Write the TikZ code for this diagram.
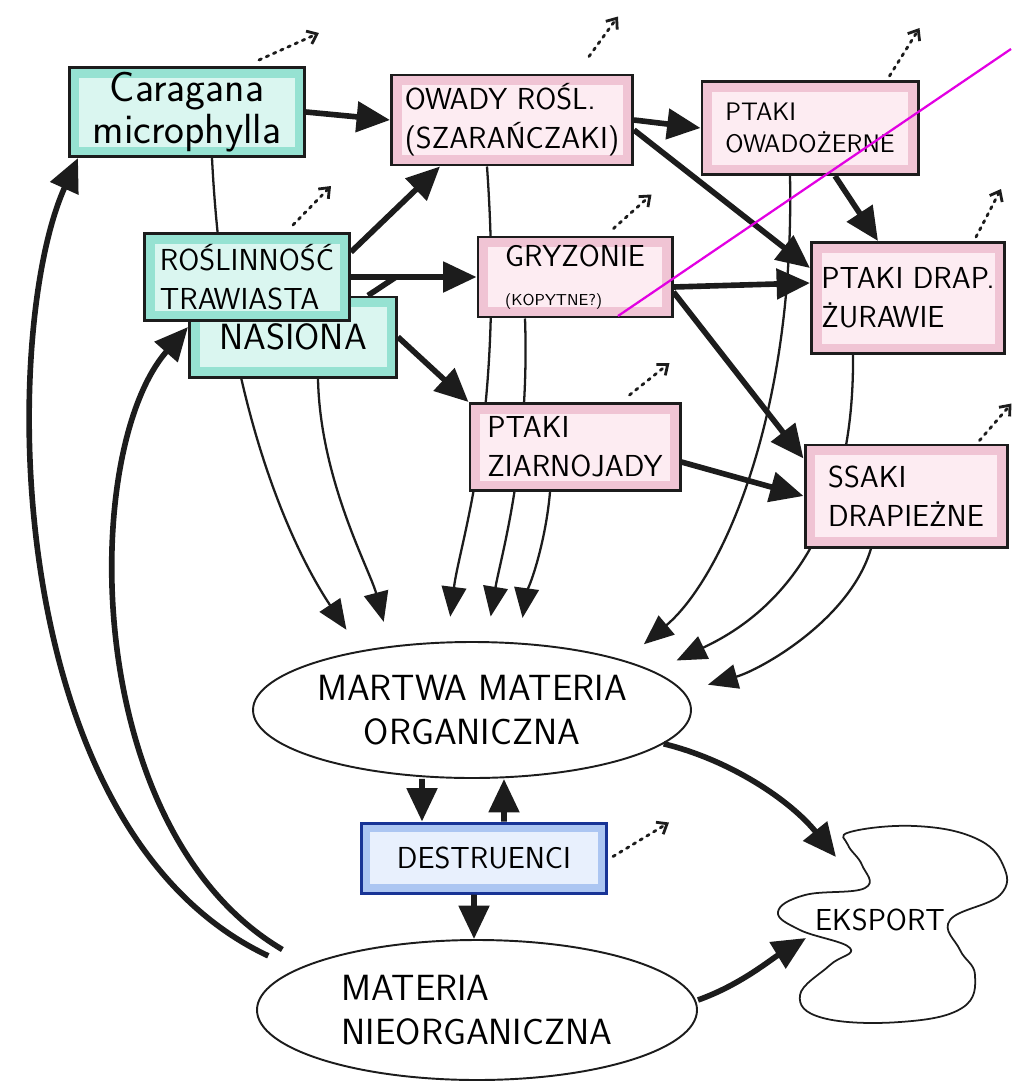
\documentclass[tikz,border=0pt]{standalone}
\usepackage{tikz}
\usetikzlibrary{arrows.meta}
\usetikzlibrary{shapes.geometric}
\usetikzlibrary{backgrounds}
\definecolor{penline}{RGB}{28,28,28}
\definecolor{tealpale}{RGB}{218,246,240}
\definecolor{tealmark}{RGB}{150,226,210}
\definecolor{pinkpale}{RGB}{253,236,242}
\definecolor{pinkmark}{RGB}{240,196,212}
\definecolor{bluepale}{RGB}{232,240,253}
\definecolor{bluemark}{RGB}{172,198,242}
\definecolor{blueline}{RGB}{24,52,150}
\definecolor{guide}{RGB}{226,0,226}
\tikzstyle{box}=[rectangle,draw=penline,line width=1.7pt,inner sep=3pt,font=\sffamily\Large,align=left]
\tikzstyle{plant}=[box,fill=tealpale,path picture={\draw[tealmark,line width=4mm] (path picture bounding box.south west) rectangle (path picture bounding box.north east);}]
\tikzstyle{animal}=[box,fill=pinkpale,path picture={\draw[pinkmark,line width=4mm] (path picture bounding box.south west) rectangle (path picture bounding box.north east);}]
\tikzstyle{decomp}=[box,draw=blueline,fill=bluepale,path picture={\draw[bluemark,line width=3.5mm] (path picture bounding box.south west) rectangle (path picture bounding box.north east);}]
\tikzstyle{pool}=[ellipse,draw=penline,fill=white,line width=1.1pt,inner sep=0pt,font=\sffamily\huge]
\tikzstyle{flow}=[line width=3.2pt,penline,-{Triangle[length=19pt,width=17pt]}]
\tikzstyle{flowline}=[line width=3.2pt,penline]
\tikzstyle{dead}=[line width=1.3pt,penline,shorten >=5mm,-{Triangle[length=17pt,width=14pt]}]
\tikzstyle{resp}=[line width=1.6pt,penline,line cap=round,dash pattern=on 1.5pt off 3pt,-{Straight Barb[length=5pt,width=8pt]}]
\tikzstyle{blob}=[line width=1pt,penline]

\begin{document}
\begin{tikzpicture}[x=0.2mm,y=-0.2mm]
	\useasboundingbox (0,0) rectangle (1011,1088);
	% producers
	\node[plant,align=center,inner sep=1pt,font=\sffamily\fontsize{24}{24}\selectfont,minimum width=47mm,minimum height=17.8mm] (caragana) at (187,112) {Caragana\\microphylla};
	\node[plant,font=\sffamily\huge,minimum width=41.4mm,minimum height=16mm] (nasiona) at (293,337) {\raisebox{-1.6mm}{NASIONA}};
	\node[plant,font=\sffamily\LARGE,minimum width=41mm,minimum height=17.4mm] (trawy) at (247,277) {ROŚLINNOŚĆ\\TRAWIASTA};
	% consumers
	\node[animal,font=\sffamily\LARGE,minimum width=48.2mm,minimum height=18mm] (owady) at (512,120) {OWADY ROŚL.\\(SZARAŃCZAKI)};
	\node[animal,minimum width=43.2mm,minimum height=18.6mm] (owadozerne) at (810,128) {PTAKI\\OWADOŻERNE};
	\node[animal,font=\sffamily\LARGE,minimum width=38.8mm,minimum height=16mm] (gryzonie) at (575,277) {GRYZONIE\\{\small(KOPYTNE?)}};
	\node[animal,font=\sffamily\LARGE,minimum width=38.6mm,minimum height=22.2mm] (drapzur) at (908,298) {PTAKI DRAP.\\ŻURAWIE};
	\node[animal,font=\sffamily\LARGE,minimum width=42mm,minimum height=17.4mm] (ziarnojady) at (575,447) {PTAKI\\ZIARNOJADY};
	\node[animal,font=\sffamily\LARGE,minimum width=40.4mm,minimum height=20.4mm] (ssaki) at (906,496) {SSAKI\\DRAPIEŻNE};
	% pools
	\node[pool,align=center,minimum width=86.8mm,minimum height=27.2mm] (martwa) at (472,710) {MARTWA MATERIA\\ORGANICZNA};
	\node[decomp,font=\sffamily\LARGE,minimum width=49mm,minimum height=14mm] (destruenci) at (484,858) {DESTRUENCI};
	\node[pool,align=left,minimum width=88mm,minimum height=28mm] (nieorg) at (477,1010) {MATERIA\\NIEORGANICZNA};
	\node[font=\sffamily\LARGE] (eksport) at (880,920) {EKSPORT};
	\draw[blob] plot[smooth cycle,tension=0.7] coordinates {(850,832) (915,826) (975,838) (1003,865) (1000,895) (950,920) (960,950) (975,975) (962,1008) (900,1022) (823,1018) (800,995) (830,965) (850,948) (800,930) (778,912) (805,895) (865,888) (862,865) (848,845)};
	\coordinate (eksin1) at (836,857);
	\coordinate (eksin2) at (806,938);

	% feeding
	\draw[flow] (caragana.east) -- (owady.west);
	\draw[flow] ([yshift=-4mm]trawy.north east) -- ([xshift=10mm]owady.south west);
	\draw[flow] (trawy.east) -- (gryzonie.west);
	\draw[flowline] ([xshift=-6mm]nasiona.north east) -- ([xshift=9mm]trawy.east);
	\draw[flow] (nasiona.east) -- (ziarnojady.north west);
	\draw[flow] (owady.east) -- (owadozerne.west);
	\draw[flow] ([yshift=-2mm]owady.east) -- ([yshift=6mm]drapzur.west);
	\draw[flow] ([xshift=5mm]owadozerne.south) -- ([xshift=-6mm]drapzur.north);
	\draw[flow] ([yshift=-2mm]gryzonie.east) -- ([yshift=3mm]drapzur.west);
	\draw[flow] ([yshift=-3mm]gryzonie.east) -- ([yshift=-3mm]ssaki.north west);
	\draw[flow] ([yshift=-3mm]ziarnojady.east) -- (ssaki.west);

	% dead matter, behind the boxes
	\begin{scope}[on background layer]
	\draw[dead] ([xshift=5mm]caragana.south) .. controls (225,420) and (300,560) .. (martwa.152);
	\draw[dead] ([xshift=-16mm]nasiona.south east) .. controls (320,480) and (370,570) .. (martwa.142);
	\draw[dead] ([xshift=-5mm]owady.south) .. controls (505,420) and (460,540) .. (martwa.110);
	\draw[dead] ([xshift=-10mm]gryzonie.south) .. controls (530,460) and (500,560) .. (martwa.78);
	\draw[dead] ([xshift=-5mm]ziarnojady.south) .. controls (545,550) and (525,600) .. (martwa.55);
	\draw[dead] ([xshift=-4mm]owadozerne.south) .. controls (795,420) and (720,580) .. (martwa.18);
	\draw[dead] ([xshift=-11mm]drapzur.south) .. controls (855,570) and (740,630) .. (martwa.12);
	\draw[dead] ([xshift=-7mm]ssaki.south) .. controls (850,620) and (760,670) .. (martwa.5);
	\end{scope}

	% decomposition and export
	\draw[flow] ([xshift=-10mm]martwa.south) -- ([xshift=-12.4mm]destruenci.north);
	\draw[flow] ([xshift=4mm]destruenci.north) -- ([xshift=6.4mm]martwa.south);
	\draw[flow] ([xshift=-2mm]destruenci.south) -- ([xshift=-0.6mm]nieorg.north);
	\draw[flow] (martwa.-10) .. controls (730,760) and (790,800) .. (eksin1);
	\draw[flow] ([yshift=2mm]nieorg.east) .. controls (740,985) and (770,960) .. (eksin2);

	% uptake of nutrients
	\draw[flow] ([xshift=-3mm,yshift=4mm]nieorg.170) .. controls (0,830) and (0,330) .. ([xshift=2mm]caragana.south west);
	\draw[flow] ([xshift=-5mm,yshift=3mm]nieorg.165) .. controls (80,830) and (80,450) .. ([yshift=2mm]nasiona.west);

	% respiration
	\foreach \n/\sx/\sy/\ex/\ey in {caragana/-9.4/1.2/12/5.4, owady/-9/3.4/5.8/8, owadozerne/-6/0.8/6/9.6, trawy/-11.6/1.4/7.6/7.8, gryzonie/-12/1.4/7.6/6.8, drapzur/-6/0.8/5/9.6, ziarnojady/-10.4/1.4/8/6.4, ssaki/-5.8/0.6/6.4/7.4, destruenci/1/-7/11.2/6.8}
		\draw[resp] ([shift={(\sx mm,\sy mm)}]\n.north east) -- ++(\ex mm,\ey mm) coordinate (\n-out);

	\draw[guide,line width=0.45mm] (618,316) -- (1011,49);
\end{tikzpicture}
\end{document}
